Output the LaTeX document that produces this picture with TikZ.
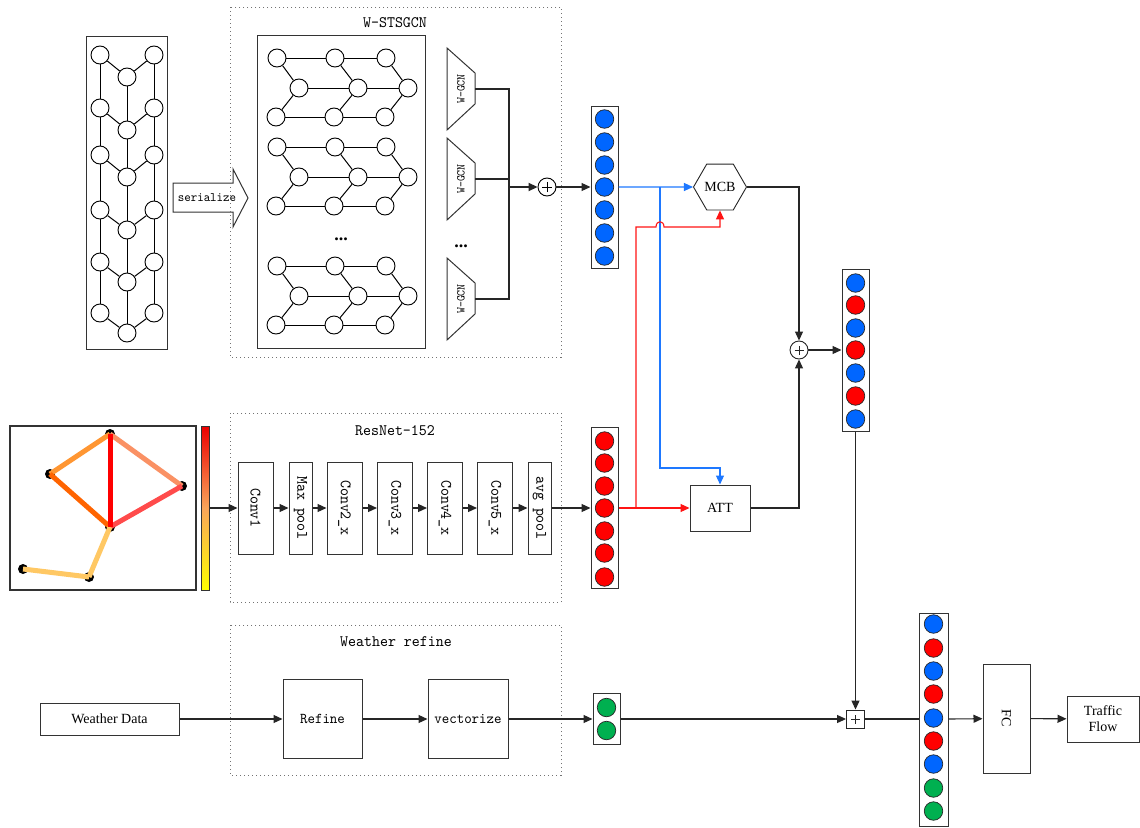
\documentclass[tikz,border=0pt]{standalone}
\usepackage{fontspec}
\setmainfont{Liberation Serif}
\newfontfamily\sm[FakeStretch=0.95]{lmmono10-regular.otf}
\usetikzlibrary{arrows.meta,shapes.geometric}
\definecolor{vblue}{RGB}{0,102,255}
\definecolor{vred}{RGB}{255,0,0}
\definecolor{vgreen}{RGB}{0,176,80}
\definecolor{lblue}{RGB}{30,120,255}
\definecolor{lred}{RGB}{255,20,20}
\begin{document}
\begin{tikzpicture}[x=1pt,y=-1pt,
  ln/.style={draw=black!85, line width=1.1pt},
  arr/.style={ln, -{Triangle[length=9pt,width=8pt]}},
  gn/.style={circle, draw=black, line width=0.9pt, minimum size=18pt, inner sep=0pt, fill=white},
  gedge/.style={draw=black, line width=1pt},
  box/.style={draw=black!80, line width=1pt, fill=white, inner sep=0pt},
  dotbox/.style={draw=black!55, line width=0.9pt, dash pattern=on 1pt off 3pt},
  vecbox/.style={draw=black!80, line width=1pt, fill=white, inner sep=0pt, minimum width=27pt},
  vc/.style={circle, draw=black!85, line width=0.7pt, minimum size=18.5pt, inner sep=0pt},
  mapdot/.style={circle, fill=black, minimum size=10pt, inner sep=0pt},
  mapedge/.style={line width=5pt},
  smt/.style={font=\sm\fontsize{16}{18}\selectfont, inner sep=0pt},
  tms/.style={font=\fontsize{14}{16}\selectfont, inner sep=0pt},
  dotstxt/.style={font=\bfseries\fontsize{18}{18}\selectfont, inner sep=0pt},
]
\useasboundingbox (0,0) rectangle (1140,827);
\fill[white] (0,0) rectangle (1140,827);

%% ---------- left graph ----------
\node[box, minimum width=81pt, minimum height=313pt] (lgbox) at (126.5,192.5) {};
\foreach \yl/\ym [count=\k] in {55/77,108/130,155/177,210/230,262/282,313/333}{
  \node[gn] (L\k) at (100,\yl) {};
  \node[gn] (R\k) at (154,\yl) {};
  \node[gn] (M\k) at (127,\ym) {};
  \draw[gedge] (L\k) -- (M\k);
  \draw[gedge] (R\k) -- (M\k);
}
\foreach \k [evaluate=\k as \n using int(\k+1)] in {1,...,5}{
  \draw[gedge] (L\k) -- (L\n);
  \draw[gedge] (R\k) -- (R\n);
  \draw[gedge] (M\k) -- (M\n);
}

%% ---------- serialize arrow ----------
\draw[draw=black!80, line width=1pt, fill=white] (173,183) -- (233,183) -- (233,169) -- (248,198) -- (233,227) -- (233,212) -- (173,212) -- cycle;
\node[smt, font=\sm\fontsize{13}{15}\selectfont] (ser) at (207,198) {serialize};

%% ---------- W-STSGCN ----------
\draw[dotbox] (230,7) rectangle (561,357);
\node[smt] (wst) at (395,23) {W-STSGCN};
\node[box, minimum width=168pt, minimum height=313pt] (sgbox) at (341,191.5) {};
\foreach \y [count=\g] in {58,147,266}{
  \node[gn] (t\g a) at (277,\y) {};
  \node[gn] (t\g b) at (335,\y) {};
  \node[gn] (t\g c) at (386,\y) {};
  \node[gn] (m\g a) at (299,\y+30) {};
  \node[gn] (m\g b) at (358,\y+30) {};
  \node[gn] (m\g c) at (408,\y+30) {};
  \node[gn] (b\g a) at (276,\y+59) {};
  \node[gn] (b\g b) at (334,\y+59) {};
  \node[gn] (b\g c) at (385,\y+59) {};
  \draw[gedge] (t\g a) -- (t\g b) -- (t\g c);
  \draw[gedge] (m\g a) -- (m\g b) -- (m\g c);
  \draw[gedge] (b\g a) -- (b\g b) -- (b\g c);
  \draw[gedge] (t\g a) -- (m\g a) -- (b\g a);
  \draw[gedge] (t\g b) -- (m\g b) -- (b\g b);
  \draw[gedge] (t\g c) -- (m\g c) -- (b\g c);
}
\node[dotstxt] (dots1) at (341,239) {...};

%% W-GCN trapezoids
\foreach \c [count=\g] in {89,179,299}{
  \draw[draw=black!80, line width=1pt, fill=white] (447,\c-41) -- (475,\c-16) -- (475,\c+15) -- (447,\c+41) -- cycle;
  \node[font=\sm\fontsize{12}{14}\selectfont, inner sep=0pt] (wg\g) at (461,\c) {\rotatebox{90}{W-GCN}};
  \coordinate (go\g) at (475,\c);
}
\node[dotstxt] (dots2) at (461,246) {...};
\coordinate (bt) at (509,89);
\coordinate (bb) at (509,299);
\coordinate (bm) at (509,179);
\coordinate (bj) at (509,187);
\draw[ln] (go1) -- (bt) -- (bb) -- (go3);
\draw[ln] (go2) -- (bm);

\node[circle, draw=black, line width=0.9pt, minimum size=18pt, inner sep=0pt, fill=white,
  path picture={\draw[line width=0.9pt] ([xshift=-5pt]path picture bounding box.center) -- ([xshift=5pt]path picture bounding box.center);
                \draw[line width=0.9pt] ([yshift=-5pt]path picture bounding box.center) -- ([yshift=5pt]path picture bounding box.center);}]
  (p1) at (547,187) {};
\draw[arr, line width=1.8pt] (bj) -- (p1);

%% blue vector
\node[vecbox, minimum height=162pt] (bvec) at (604.5,187) {};
\foreach \yy [count=\k] in {119,142,165,187,210,233,256}
  \node[vc, fill=vblue] (bv\k) at (604.5,\yy) {};
\draw[arr] (p1) -- (bvec);

%% ---------- map ----------
\draw[draw=black!80, line width=1.2pt] (10,426) rectangle (196,590);
\node[mapdot] (mA) at (110,434) {};
\node[mapdot] (mB) at (50,474) {};
\node[mapdot] (mC) at (182,486) {};
\node[mapdot] (mD) at (110,527) {};
\node[mapdot] (mE) at (23,569) {};
\node[mapdot] (mF) at (89,577) {};
\draw[mapedge, draw={rgb,255:red,255;green,150;blue,50}] (mA.center) -- (mB.center);
\draw[mapedge, draw={rgb,255:red,250;green,145;blue,100}] (mA.center) -- (mC.center);
\draw[mapedge, draw={rgb,255:red,255;green,100;blue,0}] (mB.center) -- (mD.center);
\draw[mapedge, draw={rgb,255:red,255;green,75;blue,75}] (mD.center) -- (mC.center);
\draw[mapedge, draw={rgb,255:red,255;green,200;blue,100}] (mD.center) -- (mF.center);
\draw[mapedge, draw={rgb,255:red,255;green,200;blue,100}] (mF.center) -- (mE.center);
\draw[mapedge, draw={rgb,255:red,255;green,0;blue,0}] (mA.center) -- (mD.center);
\node[draw=black!80, line width=1pt, minimum width=8pt, minimum height=164pt, inner sep=0pt,
  top color={rgb,255:red,235;green,0;blue,0}, bottom color={rgb,255:red,255;green,255;blue,0},
  middle color={rgb,255:red,250;green,165;blue,90}] (cbar) at (205,508) {};

%% ---------- ResNet ----------
\draw[dotbox] (230,413) rectangle (561,602);
\node[smt] (rn) at (395,431) {ResNet-152};
\node[box, minimum width=35pt, minimum height=92pt, font=\sm\fontsize{16}{18}\selectfont] (c1) at (255.5,508) {\rotatebox{-90}{Conv1}};
\node[box, minimum width=23pt, minimum height=92pt, font=\sm\fontsize{16}{18}\selectfont] (mp) at (300.5,508) {\rotatebox{-90}{Max pool}};
\node[box, minimum width=35pt, minimum height=92pt, font=\sm\fontsize{16}{18}\selectfont] (c2) at (344.5,508) {\rotatebox{-90}{Conv2\_x}};
\node[box, minimum width=35pt, minimum height=92pt, font=\sm\fontsize{16}{18}\selectfont] (c3) at (395,508) {\rotatebox{-90}{Conv3\_x}};
\node[box, minimum width=35pt, minimum height=92pt, font=\sm\fontsize{16}{18}\selectfont] (c4) at (445,508) {\rotatebox{-90}{Conv4\_x}};
\node[box, minimum width=35pt, minimum height=92pt, font=\sm\fontsize{16}{18}\selectfont] (c5) at (495,508) {\rotatebox{-90}{Conv5\_x}};
\node[box, minimum width=23pt, minimum height=92pt, font=\sm\fontsize{16}{18}\selectfont] (ap) at (539.5,508) {\rotatebox{-90}{avg pool}};
\draw[arr] (cbar) -- (c1);
\draw[arr] (c1) -- (mp);
\draw[arr] (mp) -- (c2);
\draw[arr] (c2) -- (c3);
\draw[arr] (c3) -- (c4);
\draw[arr] (c4) -- (c5);
\draw[arr] (c5) -- (ap);

%% red vector
\node[vecbox, minimum height=161pt] (rvec) at (604.5,508) {};
\foreach \yy [count=\k] in {441,463,486,508,531,553,577}
  \node[vc, fill=vred] (rv\k) at (604.5,\yy) {};
\draw[arr] (ap) -- (rvec);

%% ---------- MCB / ATT ----------
\node[regular polygon, regular polygon sides=6, draw=black!85, line width=0.9pt, minimum size=53pt, inner sep=0pt, fill=white, tms] (mcb) at (720,187) {MCB};
\node[box, minimum width=60pt, minimum height=46pt, tms] (att) at (720,508) {ATT};

\coordinate (bbr) at (660,187);
\coordinate (rbr) at (636,508);
\draw[draw=lblue, line width=1.1pt, -{Triangle[length=9pt,width=8pt]}] (bvec.east |- bv4) -- (mcb.west);
\draw[draw=lblue, line width=1.1pt, -{Triangle[length=9pt,width=8pt]}] (bbr) -- (660,468) -- (720,468) -- (att.north);
\draw[draw=lred, line width=1.1pt, -{Triangle[length=9pt,width=8pt]}] (rvec.east |- rv4) -- (att.west);
\draw[draw=lred, line width=1.1pt, -{Triangle[length=9pt,width=8pt]}] (rbr) -- (636,227) -- (656,227) .. controls (656,220) and (664,220) .. (664,227) -- (720,227) -- (mcb.south);

\node[circle, draw=black!85, line width=0.9pt, minimum size=18pt, inner sep=0pt, fill=white,
  path picture={\draw[line width=0.6pt] ([xshift=-4.5pt]path picture bounding box.center) -- ([xshift=4.5pt]path picture bounding box.center);
                \draw[line width=0.6pt] ([yshift=-4.5pt]path picture bounding box.center) -- ([yshift=4.5pt]path picture bounding box.center);}]
  (p2) at (799,350) {};
\draw[arr] (mcb.east) -| (p2.north);
\draw[arr] (att.east) -| (p2.south);

%% mixed vector
\node[vecbox, minimum height=162pt] (mvec) at (855.5,350) {};
\foreach \yy/\cc [count=\k] in {283/vblue,305/vred,328/vblue,350/vred,373/vblue,396/vred,419/vblue}
  \node[vc, fill=\cc] (mv\k) at (855.5,\yy) {};
\draw[arr] (p2) -- (mvec);

%% ---------- Weather ----------
\draw[dotbox] (230,625) rectangle (561,775);
\node[smt] (wr) at (396,642) {Weather refine};
\node[box, minimum width=139pt, minimum height=32pt, tms] (wd) at (109.5,719) {Weather Data};
\node[box, minimum width=79pt, minimum height=79pt, font=\sm\fontsize{15}{17}\selectfont] (ref) at (322.5,719) {Refine};
\node[box, minimum width=80pt, minimum height=79pt, font=\sm\fontsize{15}{17}\selectfont] (vz) at (468,719) {vectorize};
\draw[arr] (wd) -- (ref);
\draw[arr] (ref) -- (vz);

\node[vecbox, minimum height=51pt] (gvec) at (606.5,719) {};
\node[vc, fill=vgreen] (gv1) at (606.5,707.5) {};
\node[vc, fill=vgreen] (gv2) at (606.5,730.5) {};
\draw[arr] (vz) -- (gvec);

\node[draw=black!85, line width=0.9pt, minimum size=18pt, inner sep=0pt, fill=white,
  path picture={\draw[line width=0.5pt] ([xshift=-4.5pt]path picture bounding box.center) -- ([xshift=4.5pt]path picture bounding box.center);
                \draw[line width=0.5pt] ([yshift=-4.5pt]path picture bounding box.center) -- ([yshift=4.5pt]path picture bounding box.center);}]
  (sp) at (855.5,719) {};
\draw[arr] (gvec) -- (sp);
\draw[arr] (mvec) -- (sp);

%% final vector
\node[vecbox, minimum width=29pt, minimum height=213pt] (fvec) at (933.5,719.5) {};
\foreach \yy/\cc [count=\k] in {624/vblue,648/vred,671/vblue,694/vred,718/vblue,741/vred,764/vblue,788/vgreen,811/vgreen}
  \node[vc, fill=\cc] (fv\k) at (933.5,\yy) {};
\draw[ln] (sp) -- (fvec.west |- sp);

\node[box, minimum width=47pt, minimum height=109pt, tms] (fc) at (1006.5,718.5) {\rotatebox{-90}{FC}};
\node[box, minimum width=72pt, minimum height=46pt, tms, align=center] (tf) at (1103,719) {Traffic\\Flow};
\draw[arr] (fvec.east |- sp) -- (fc);
\draw[arr] (fc) -- (tf);
\end{tikzpicture}
\end{document}
